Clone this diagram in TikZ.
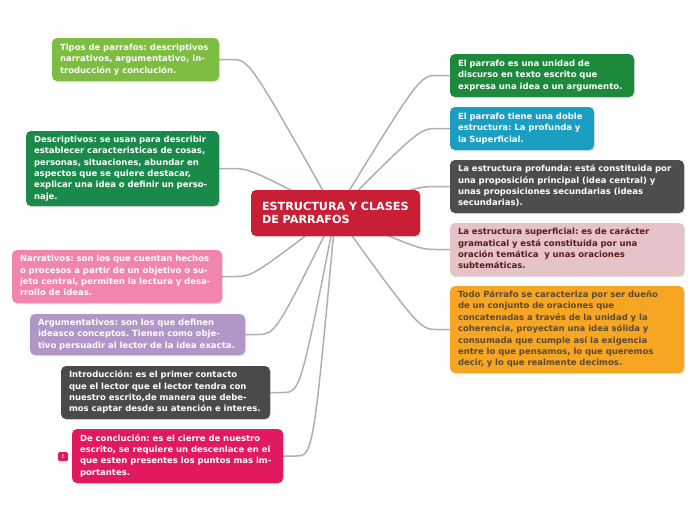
\documentclass[tikz,border=0pt]{standalone}
\usepackage{fontspec}
\setmainfont{DejaVu Sans}
\usetikzlibrary{calc,shadows,backgrounds}
\definecolor{cTipos}{HTML}{7CBD42}
\definecolor{cDesc}{HTML}{1A8A4A}
\definecolor{cNarr}{HTML}{F285AD}
\definecolor{cArg}{HTML}{B196C8}
\definecolor{cIntro}{HTML}{4A4A4A}
\definecolor{cConc}{HTML}{E2195E}
\definecolor{cRone}{HTML}{1C8A3A}
\definecolor{cRtwo}{HTML}{1A9EC1}
\definecolor{cRthree}{HTML}{4D4D4D}
\definecolor{cRfour}{HTML}{E6C3C9}
\definecolor{cRfourT}{HTML}{5C1A1A}
\definecolor{cRfive}{HTML}{F6A623}
\definecolor{cRfiveT}{HTML}{5B4A33}
\definecolor{cCenter}{HTML}{C91F36}
\definecolor{cLine}{HTML}{AFAFAF}
\newcommand{\lines}[1]{\begin{tabular}{@{}l@{}}#1\end{tabular}}
\tikzset{
  topic/.style={rounded corners=5pt, inner xsep=8pt, inner ysep=2pt, align=left,
    font=\bfseries\fontsize{8.5}{11.4}\selectfont\frenchspacing, text=white,
    drop shadow={opacity=0.25, shadow xshift=1pt, shadow yshift=-1.2pt}},
  centre/.style={rounded corners=5pt, inner xsep=11pt, align=left, fill=cCenter,
    font=\bfseries\fontsize{11.2}{13.5}\selectfont, text=white,
    minimum width=169pt, minimum height=46pt, text width=147pt,
    drop shadow={opacity=0.25, shadow xshift=1pt, shadow yshift=-1.2pt}},
  conn/.style={draw=cLine, line width=1.5pt, line cap=round},
}
\newcommand{\leftlink}[2]{\draw[conn] (#1.center) .. controls ($(#2.east)+(30,0)$) .. ($(#2.east)+(12,0)$) -- (#2.east);}
\newcommand{\rightlink}[2]{\draw[conn] (#1.center) .. controls ($(#2.west)+(-30,0)$) .. ($(#2.west)+(-12,0)$) -- (#2.west);}
\begin{document}
\begin{tikzpicture}[x=1pt,y=-1pt]
\useasboundingbox (0,0) rectangle (696,520);
% left topics
\node[topic, fill=cTipos, minimum width=167pt, minimum height=43pt, text width=151pt] (tipos) at (135.5,59.5)
 {\lines{Tipos de parrafos: descriptivos\\narrativos, argumentativo, in-\\troducción y conclución.}};
\node[topic, fill=cDesc, minimum width=193pt, minimum height=75pt, text width=177pt] (desc) at (122.5,168.5)
 {\lines{Descriptivos: se usan para describir\\establecer caracteristicas de cosas,\\personas, situaciones, abundar en\\aspectos que se quiere destacar,\\explicar una idea o definir un perso-\\naje.}};
\node[topic, fill=cNarr, minimum width=210pt, minimum height=53pt, text width=194pt] (narr) at (117,276.5)
 {\lines{Narrativos: son los que cuentan hechos\\o procesos a partir de un objetivo o su-\\jeto central, permiten la lectura y desa-\\rrollo de ideas.}};
\node[topic, fill=cArg, minimum width=215pt, minimum height=41pt, text width=199pt] (arg) at (137.5,334.5)
 {\lines{Argumentativos: son los que definen\\ideasco conceptos. Tienen como obje-\\tivo persuadir al lector de la idea exacta.}};
\node[topic, fill=cIntro, minimum width=209pt, minimum height=53pt, text width=193pt] (intro) at (165.5,392.5)
 {\lines{Introducción: es el primer contacto\\que el lector que el lector tendra con\\nuestro escrito,de manera que debe-\\mos captar desde su atención e interes.}};
\node[topic, fill=cConc, minimum width=211pt, minimum height=54pt, text width=195pt] (conc) at (177.5,456)
 {\lines{De conclución: es el cierre de nuestro\\escrito, se requiere un descenlace en el\\que esten presentes los puntos mas im-\\portantes.}};
\node[fill=cConc, rounded corners=1.5pt, minimum width=10pt, minimum height=9pt, inner sep=0pt,
  text=white, font=\bfseries\fontsize{5}{5}\selectfont] (warn) at (63,456.5) {!};
% right topics
\node[topic, fill=cRone, minimum width=184pt, minimum height=43pt, text width=168pt] (rone) at (542,75.5)
 {\lines{El parrafo es una unidad de\\discurso en texto escrito que\\expresa una idea o un argumento.}};
\node[topic, fill=cRtwo, minimum width=144pt, minimum height=43pt, text width=128pt] (rtwo) at (522,128.5)
 {\lines{El parrafo tiene una doble\\estructura: La profunda y\\la Superficial.}};
\node[topic, fill=cRthree, minimum width=234pt, minimum height=53pt, text width=218pt] (rthree) at (567,186.5)
 {\lines{La estructura profunda: está constituida por\\una proposición principal (idea central) y\\unas proposiciones secundarias (ideas\\secundarias).}};
\node[topic, fill=cRfour, text=cRfourT, minimum width=234pt, minimum height=53pt, text width=218pt] (rfour) at (567,249.5)
 {\lines{La estructura superficial: es de carácter\\gramatical y está constituida por una\\oración temática \ y unas oraciones\\subtemáticas.}};
\node[topic, fill=cRfive, text=cRfiveT, minimum width=234pt, minimum height=87pt, text width=218pt] (rfive) at (567,329.5)
 {\lines{Todo Párrafo se caracteriza por ser dueño\\de un conjunto de oraciones que\\concatenadas a través de la unidad y la\\coherencia, proyectan una idea sólida y\\consumada que cumple así la exigencia\\entre lo que pensamos, lo que queremos\\decir, y lo que realmente decimos.}};
% centre
\node[centre] (c) at (335.5,213) {ESTRUCTURA Y CLASES\\DE PARRAFOS};
\begin{scope}[on background layer]
\leftlink{c}{tipos}
\leftlink{c}{desc}
\leftlink{c}{narr}
\leftlink{c}{arg}
\leftlink{c}{intro}
\leftlink{c}{conc}
\rightlink{c}{rone}
\rightlink{c}{rtwo}
\rightlink{c}{rthree}
\rightlink{c}{rfour}
\rightlink{c}{rfive}
\end{scope}
\end{tikzpicture}
\end{document}
